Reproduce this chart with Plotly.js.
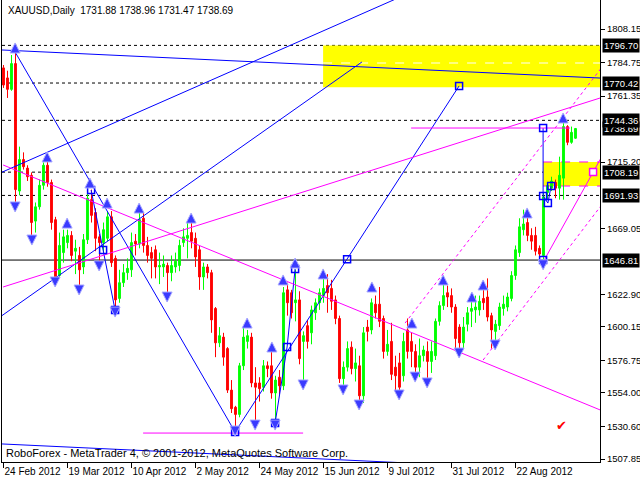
<!DOCTYPE html>
<html>
<head>
<meta charset="utf-8">
<script src="https://cdn.plot.ly/plotly-3.0.1.min.js"></script>
<style>html,body{margin:0;padding:0;background:#fff;}#chart{width:640px;height:480px;}</style>
</head>
<body>
<div id="chart"></div>
<script>
// ---- candles (daily XAUUSD, bar index 0 = 24 Feb 2012) ----
const open = [1781,1774,1766,1784,1695,1717,1711,1706,1674,1684,1699,1713,1701,1675,1636,1652,1659,1664,1653,1650,
1642,1661,1689,1680,1663,1659,1662,1677,1648,1620,1631,1638,1640,1660,1658,1676,1657,1652,1654,1642,
1642,1643,1638,1642,1643,1659,1662,1666,1662,1654,1635,1642,1638,1613,1589,1593,1585,1556,1544,1539,
1573,1590,1593,1561,1561,1558,1573,1573,1554,1565,1559,1626,1624,1617,1619,1590,1601,1596,1610,1617,
1622,1629,1627,1619,1606,1564,1572,1586,1571,1573,1552,1600,1598,1616,1616,1606,1583,1590,1572,1575,
1566,1598,1590,1583,1572,1580,1583,1576,1580,1604,1615,1624,1622,1614,1600,1589,1602,1611,1612,1612,
1620,1621,1608,1597,1601,1613,1614,1620,1636,1652,1668,1673,1664,1664,1655,1650,1694,1697,1701,1697,
1704,1740,1729,1731.88];
const high = [1783,1779,1790,1792,1726,1722,1713,1708,1687,1703,1715,1716,1703,1677,1666,1668,1668,1667,1661,1656,
1665,1694,1696,1683,1665,1673,1681,1681,1650,1640,1644,1648,1666,1665,1680,1680,1663,1656,1657,1652,
1650,1645,1650,1652,1661,1669,1674,1675,1666,1657,1645,1644,1640,1614,1600,1596,1586,1563,1545,1575,
1600,1598,1596,1572,1565,1577,1576,1583,1566,1570,1628,1631,1626,1640,1625,1597,1605,1615,1620,1627,
1640,1637,1633,1622,1608,1576,1590,1590,1585,1580,1600,1605,1620,1622,1628,1608,1598,1603,1580,1582,
1596,1606,1596,1588,1592,1587,1590,1590,1606,1618,1633,1629,1627,1616,1602,1607,1614,1618,1622,1622,
1630,1634,1610,1605,1617,1622,1624,1639,1657,1676,1682,1680,1669,1670,1657,1694,1700,1705,1703,1719,
1744,1741,1740,1738.96];
const low = [1767,1760,1765,1687,1692,1710,1702,1663,1666,1682,1696,1698,1668,1631,1635,1645,1655,1646,1637,1627,
1637,1658,1673,1653,1645,1652,1660,1642,1612,1617,1628,1633,1635,1650,1655,1652,1645,1634,1634,1630,
1635,1623,1632,1638,1639,1656,1648,1655,1642,1626,1626,1634,1596,1579,1586,1573,1554,1540,1526.7,1537,
1570,1585,1558,1533,1548,1555,1565,1550,1533,1553,1556,1608,1606,1604,1574,1561,1585,1588,1605,1612,
1617,1610,1612,1602,1561,1555,1569,1567,1562,1548,1547,1590,1595,1606,1600,1578,1580,1563,1554,1553,
1562,1578,1572,1566,1565,1576,1562,1568,1577,1601,1612,1614,1610,1584,1583,1585,1597,1600,1603,1608,
1612,1604,1585,1585,1598,1608,1611,1618,1633,1649,1664,1660,1654,1650,1648,1646.81,1689,1695,1690,1689,
1689,1727,1728,1731.47];
const close = [1769,1766,1784,1696,1717,1712,1705,1673,1684,1699,1713,1701,1673,1634,1657,1663,1664,1650,1655,1640,
1661,1690,1678,1662,1659,1668,1677,1645,1619,1631,1638,1641,1659,1658,1675,1657,1650,1648,1642,1643,
1644,1638,1643,1646,1657,1663,1664,1660,1649,1635,1642,1638,1605,1589,1594,1579,1556,1543,1539,1573,
1593,1594,1561,1558,1557,1573,1571,1554,1563,1559,1624,1617,1610,1619,1578,1594,1590,1612,1617,1624,
1627,1624,1618,1606,1564,1572,1585,1571,1575,1552,1596,1597,1617,1610,1604,1583,1588,1567,1566,1558,
1590,1583,1583,1572,1580,1584,1576,1583,1604,1615,1622,1621,1614,1592,1589,1600,1610,1613,1614,1618,
1617,1607,1598,1602,1614,1616,1621,1636,1654,1670,1672,1664,1660,1653,1651,1691,1699,1702,1697,1706,
1740,1729,1736,1738.69];

// ---- axis ticks ----
const dateTickIdx = [0,16,32,48,64,80,96,112,128];
const dateTickText = ['24 Feb 2012','19 Mar 2012','10 Apr 2012','2 May 2012','24 May 2012','15 Jun 2012','9 Jul 2012','31 Jul 2012','22 Aug 2012'];
const priceTicks = [1808.15,1784.75,1761.35,1715.20,1669.05,1622.90,1600.15,1576.75,1554.00,1530.60,1507.85];
const priceTickText = ['1808.15','1784.75','1761.35','1715.20','1669.05','1622.90','1600.15','1576.75','1554.00','1530.60','1507.85'];
const markedPrices = ['1796.70','1770.42','1738.69','1744.36','1708.19','1691.93','1646.81'];
const dashedLevels = [1796.70,1770.42,1744.36,1708.19,1691.93];
const solidLevel = 1646.81;

// ---- drawn objects: [barIndex, price] points ----
const blueChannelTop = [[-0.4,1793.5],[149.2,1773.9]];
const blueChannelBottom = [[-0.4,1518.4],[149.2,1498.8]];
const blueFall = [[2.9,1792.1],[57.9,1526.7]];
const blueRise = [[57.9,1526.7],[113.9,1768.4]];
const blueRayA = [[-1,1707.4],[100,1831.5]];
const blueRayB = [[-1,1606.8],[89.6,1785.1]];
const zigA = [[21.9,1695.7],[27.9,1611.9]];
const zigB = [[67.9,1533.0],[70.9,1586.1],[72.9,1640.6]];
const zigC = [[134.9,1739.0],[134.9,1691.5],[136.1,1686.6],[136.9,1698.5]];
const blueBoxes = [[21.9,1695.7],[24.9,1653.8],[27.9,1611.9],[57.9,1526.7],[85.9,1647.3],[113.9,1768.4],
  [67.9,1533.0],[70.9,1586.1],[72.9,1640.6],[134.9,1739.0],[134.9,1691.5],[136.1,1686.6],[136.9,1698.5],[134.9,1646.81]];

const magFall = [[-0.1,1713.2],[149.2,1542.1]];
const magRise = [[-0.1,1628.0],[149.2,1760.0]];
const magLevelHigh = [[101.9,1739.0],[141.6,1739.0]];
const magLevelLow = [[34.9,1526.0],[74.9,1526.0]];
const magSteep = [[134.9,1645.4],[150,1721.2]];
const magDotUpper = [[100.4,1602.8],[150,1782.9]];
const magDotLower = [[119.9,1577.0],[150,1687.0]];
const magBox = [[147.4,1708.3]];

const zoneHigh = [79.9, 1767.4, 1796.7];   // from bar, bottom, top
const zoneLow = [134.9, 1698.5, 1715.3];
const zoneHighMid = 1784.4;

const fractalUp = [[2.9,1798.4],[10.9,1722.3],[15.9,1676.1],[21.6,1704.1],[25.9,1690.1],[33.9,1686.6],[46.9,1679.6],
  [60.9,1606.3],[67.1,1589.6],[69.9,1636.4],[72.9,1648.2],[79.9,1640.6],[92.1,1631.5],[102.1,1606.3],[109.9,1636.4],
  [117.1,1624.5],[119.9,1632.9],[130.9,1683.2],[139.9,1749.5]];
const fractalDown = [[2.9,1680.4],[7.1,1657.3],[12.9,1628.0],[18.9,1622.4],[23.9,1639.2],[27.9,1607.0],[40.9,1617.5],
  [57.9,1523.9],[62.9,1528.1],[67.9,1528.1],[74.9,1556.1],[84.9,1552.6],[88.9,1542.1],[98.9,1549.1],[102.9,1561.6],
  [105.9,1557.5],[113.9,1578.4],[122.9,1584.0],[134.9,1640.0]];
const checkMark = [139.6, 1531.6];

// ---- build ----
const idx = open.map((_, i) => i);
const FONT = 'Liberation Sans, Arial, sans-serif';
const xs = p => p.map(a => a[0]);
const ys = p => p.map(a => a[1]);
function line(pts, color, dash) {
  return {type:'scatter', mode:'lines', x:xs(pts), y:ys(pts), line:{color:color, width:1, dash:dash||'solid'}, hoverinfo:'skip'};
}

const traces = [];
traces.push({type:'candlestick', x:idx, open:open, high:high, low:low, close:close,
  increasing:{line:{color:'#00ff00', width:1}, fillcolor:'#00ff00'},
  decreasing:{line:{color:'#ff0000', width:1}, fillcolor:'#ff0000'},
  whiskerwidth:0, hoverinfo:'skip'});
[blueChannelTop, blueChannelBottom, blueFall, blueRise, blueRayA, blueRayB, zigA, zigB, zigC].forEach(p => traces.push(line(p, '#0000ff')));
[magFall, magRise, magLevelHigh, magLevelLow, magSteep].forEach(p => traces.push(line(p, '#ff00ff')));
[magDotUpper, magDotLower].forEach(p => traces.push(line(p, '#ff00ff', 'dot')));
traces.push({type:'scatter', mode:'markers', x:xs(blueBoxes), y:ys(blueBoxes),
  marker:{symbol:'square-open', size:7, color:'#0000ff', line:{width:1.5}}, hoverinfo:'skip'});
traces.push({type:'scatter', mode:'markers', x:xs(magBox), y:ys(magBox),
  marker:{symbol:'square', size:7, color:'#ffffff', line:{width:1.5, color:'#ff00ff'}}, hoverinfo:'skip'});
traces.push({type:'scatter', mode:'markers', x:xs(fractalUp), y:ys(fractalUp),
  marker:{symbol:'arrow-up', size:10, color:'#3a3aff', line:{width:1, color:'#a8a8ff'}}, hoverinfo:'skip'});
traces.push({type:'scatter', mode:'markers', x:xs(fractalDown), y:ys(fractalDown),
  marker:{symbol:'arrow-down', size:10, color:'#3a3aff', line:{width:1, color:'#a8a8ff'}}, hoverinfo:'skip'});

const shapes = [];
shapes.push({type:'rect', xref:'x', yref:'y', x0:zoneHigh[0], x1:150, y0:zoneHigh[1], y1:zoneHigh[2], fillcolor:'#ffff00', line:{width:0}, layer:'below'});
shapes.push({type:'rect', xref:'x', yref:'y', x0:zoneLow[0], x1:150, y0:zoneLow[1], y1:zoneLow[2], fillcolor:'#ffff00', line:{width:0}, layer:'below'});
shapes.push({type:'line', xref:'x', yref:'y', x0:zoneHigh[0], x1:150, y0:zoneHighMid, y1:zoneHighMid, line:{color:'#ffffff', width:1, dash:'dash'}, layer:'below'});
shapes.push({type:'line', xref:'x', yref:'y', x0:zoneLow[0], x1:150, y0:zoneLow[1], y1:zoneLow[1], line:{color:'#ff00ff', width:1, dash:'dash'}, layer:'below'});
shapes.push({type:'line', xref:'x', yref:'y', x0:zoneLow[0], x1:150, y0:zoneLow[2], y1:zoneLow[2], line:{color:'#ff00ff', width:1, dash:'dash'}, layer:'below'});
dashedLevels.forEach(v => shapes.push({type:'line', xref:'paper', yref:'y', x0:0, x1:1, y0:v, y1:v, line:{color:'#000000', width:1, dash:'3px,3px'}, layer:'below'}));
shapes.push({type:'line', xref:'paper', yref:'y', x0:0, x1:1, y0:solidLevel, y1:solidLevel, line:{color:'#000000', width:1}, layer:'below'});

const annotations = [];
markedPrices.forEach(t => annotations.push({xref:'paper', yref:'y', x:1, y:parseFloat(t), xanchor:'left', yanchor:'middle', xshift:2,
  text:t, showarrow:false, bgcolor:'#000000', borderpad:1, font:{family:FONT, size:9.5, color:'#ffffff'}}));
annotations.push({xref:'paper', yref:'paper', x:0, y:1, xanchor:'left', yanchor:'top', xshift:4, yshift:-3, showarrow:false,
  text:'XAUUSD,Daily  1731.88 1738.96 1731.47 1738.69', font:{family:FONT, size:10, color:'#000000'}});
annotations.push({xref:'paper', yref:'paper', x:0, y:0, xanchor:'left', yanchor:'bottom', xshift:2, yshift:1, showarrow:false,
  text:'RoboForex - MetaTrader 4, © 2001-2012, MetaQuotes Software Corp.', font:{family:FONT, size:11, color:'#000000'}});
annotations.push({xref:'x', yref:'y', x:checkMark[0], y:checkMark[1], showarrow:false, text:'✔', font:{family:'DejaVu Sans', size:13, color:'#ff0000'}});

const layout = {
  width:640, height:480, margin:{l:2, r:40, t:0, b:18},
  paper_bgcolor:'#ffffff', plot_bgcolor:'#ffffff', showlegend:false, boxgap:0.35,
  font:{family:FONT, size:10, color:'#000000'},
  xaxis:{range:[-0.375,149.125], rangeslider:{visible:false}, showgrid:false, zeroline:false,
    showline:true, linecolor:'#000000', linewidth:1, mirror:true,
    ticks:'outside', ticklen:5, tickcolor:'#000000', tickvals:dateTickIdx, ticktext:dateTickText,
    tickangle:0, ticklabelposition:'outside right', tickfont:{family:FONT, size:10, color:'#000000'}, fixedrange:true},
  yaxis:{range:[1505.79,1828.4], side:'right', showgrid:false, zeroline:false,
    showline:true, linecolor:'#000000', linewidth:1, mirror:true,
    ticks:'outside', ticklen:4, tickcolor:'#000000', tickvals:priceTicks, ticktext:priceTickText,
    tickfont:{family:FONT, size:9.5, color:'#000000'}, fixedrange:true},
  shapes:shapes, annotations:annotations
};
Plotly.newPlot('chart', traces, layout, {staticPlot:true, displayModeBar:false});
</script>
</body>
</html>
